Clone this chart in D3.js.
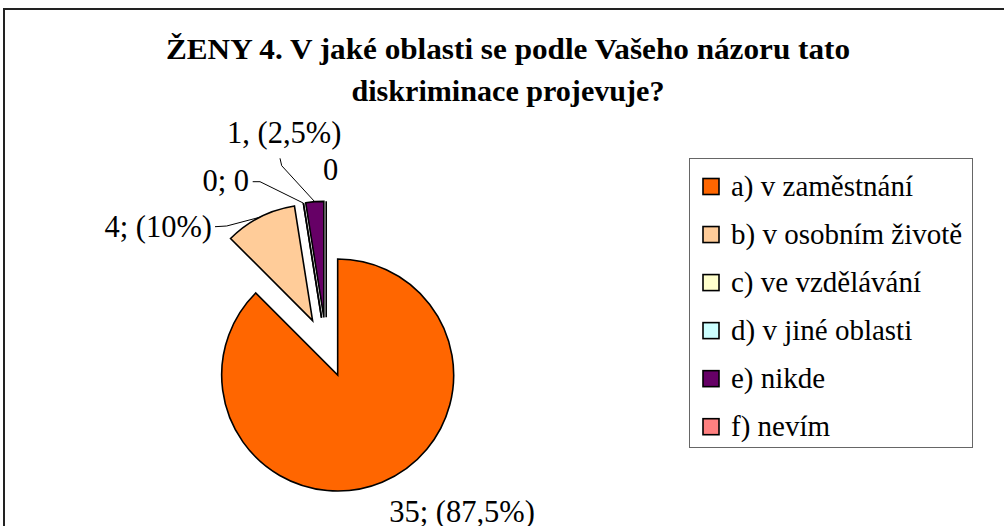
<!DOCTYPE html>
<html lang="cs">
<head>
    <meta charset="UTF-8">
    <title>ŽENY 4</title>
    <script src="https://d3js.org/d3.v7.min.js"></script>
    <style>
        body { margin: 0; background: #fff; }
        svg { display: block; }
        svg text { font-family: 'Liberation Serif', Tinos, 'Times New Roman', 'DejaVu Serif', serif; fill: #000; }
        .title { font-weight: bold; font-size: 30px; }
        .lbl { font-size: 30.5px; }
        .leg { font-size: 29px; }
    </style>
</head>
<body>
    <svg width="1004" height="526"></svg>

    <script>
        // data
        const categories = ["a) v zaměstnání", "b) v osobním životě", "c) ve vzdělávání",
                            "d) v jiné oblasti", "e) nikde", "f) nevím"];
        const values = [35, 4, 0, 0, 1, 0];
        const labels = ["35; (87,5%)", "4; (10%)", "0; 0", "", "1, (2,5%)", "0"];
        const colors = ["#FF6600", "#FFCC99", "#FFFFCC", "#CCFFFF", "#660066", "#FF8080"];
        const titleLines = ["ŽENY 4. V jaké oblasti se podle Vašeho názoru tato",
                            "diskriminace projevuje?"];

        const width = 1004, height = 526;
        const serif = "Liberation Serif, Tinos, Times New Roman, DejaVu Serif, serif";
        const svg = d3.select("svg");

        // rámeček grafu (přesahuje vpravo a dole)
        svg.append("rect")
            .attr("x", 4).attr("y", 9)
            .attr("width", 1010).attr("height", 540)
            .attr("fill", "#fff")
            .attr("stroke", "#222")
            .attr("stroke-width", 2);

        // nadpis
        const titleWidths = [684, 313];
        svg.selectAll(".title")
            .data(titleLines)
            .enter().append("text")
            .attr("class", "title")
            .attr("font-family", serif)
            .attr("x", 508)
            .attr("y", (d, i) => 59 + i * 42)
            .attr("text-anchor", "middle")
            .attr("textLength", (d, i) => titleWidths[i])
            .attr("lengthAdjust", "spacingAndGlyphs")
            .text(d => d);

        // koláč
        const cx = 326.2, cy = 347.3, r = 116, explode = 30;
        const pie = d3.pie().sort(null).value(d => d)(values);
        const arc = d3.arc().innerRadius(0).outerRadius(r);
        const mid = d => (d.startAngle + d.endAngle) / 2;
        const offset = d => [Math.sin(mid(d)) * explode, -Math.cos(mid(d)) * explode];

        const g = svg.append("g").attr("transform", `translate(${cx},${cy})`);

        g.selectAll("path.slice")
            .data(pie)
            .enter().append("path")
            .attr("class", "slice")
            .attr("transform", d => `translate(${offset(d)})`)
            .attr("d", arc)
            .attr("fill", (d, i) => colors[i])
            .attr("stroke", "#000")
            .attr("stroke-width", 1.6)
            .attr("stroke-linejoin", "miter");

        // popisky – pozice textu a lomu vodící čáry
        const labelLayout = [
            { x: 462, y: 522, anchor: "middle", line: null },
            { x: 212, y: 237, anchor: "end", line: [[215, 226.7], [226.7, 226]] },
            { x: 249, y: 191, anchor: "end", line: [[252.7, 181.7], [260, 181.7]] },
            null,
            { x: 227, y: 143, anchor: "start", line: [[280, 158.3], [281.7, 165.7]] },
            { x: 323, y: 180, anchor: "start", line: null }
        ];

        pie.forEach((d, i) => {
            const L = labelLayout[i];
            if (!L || !labels[i]) return;
            if (L.line) {
                const o = offset(d);
                const a = mid(d);
                const end = [cx + o[0] + Math.sin(a) * r, cy + o[1] - Math.cos(a) * r];
                svg.append("path")
                    .attr("d", d3.line()([...L.line, end]))
                    .attr("fill", "none")
                    .attr("stroke", "#000")
                    .attr("stroke-width", 1);
            }
            svg.append("text")
                .attr("class", "lbl")
                .attr("font-family", serif)
                .attr("x", L.x).attr("y", L.y)
                .attr("text-anchor", L.anchor)
                .text(labels[i]);
        });

        // legenda
        svg.append("rect")
            .attr("x", 689.5).attr("y", 158.5)
            .attr("width", 283).attr("height", 289)
            .attr("fill", "#fff")
            .attr("stroke", "#666")
            .attr("stroke-width", 1);

        const ly = d3.scalePoint().domain(categories).range([186.5, 426.7]);
        const leg = svg.selectAll(".legItem")
            .data(categories)
            .enter().append("g")
            .attr("class", "legItem")
            .attr("transform", d => `translate(0,${ly(d)})`);

        leg.append("rect")
            .attr("x", 703).attr("y", -8)
            .attr("width", 16).attr("height", 16)
            .attr("fill", (d, i) => colors[i])
            .attr("stroke", "#000")
            .attr("stroke-width", 1.6);

        leg.append("text")
            .attr("class", "leg")
            .attr("font-family", serif)
            .attr("x", 731).attr("y", 9)
            .text(d => d);
    </script>
</body>
</html>
